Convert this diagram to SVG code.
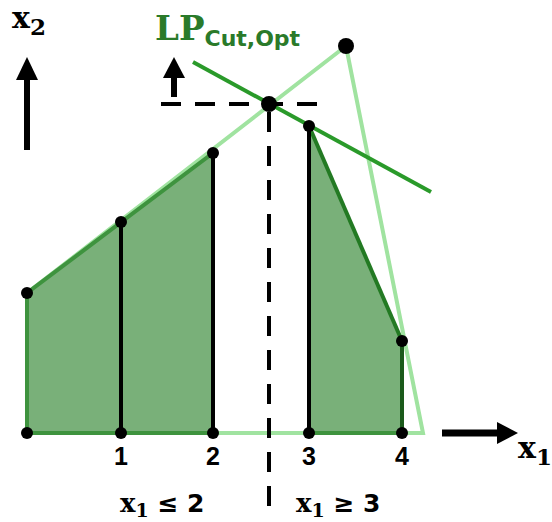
<svg xmlns="http://www.w3.org/2000/svg" width="552" height="522" viewBox="0 0 552 522">
<style>
.lt{fill:none;stroke:#a0e3a0;stroke-width:4;stroke-linejoin:miter}
.reg{fill:#79b079;stroke:#3e933e;stroke-width:4}
.blk{stroke:#000;stroke-width:4;fill:none}
.dash{stroke:#000;stroke-width:4;fill:none;stroke-dasharray:20,14}
.dot{fill:#000}
.arr{fill:#000}
.tick{font-family:"Liberation Sans",Arial,sans-serif;font-weight:bold;font-size:25px;fill:#000;text-anchor:middle}
.ser{font-family:"DejaVu Serif","Liberation Serif",serif;font-weight:bold;fill:#000}
</style>
<g id="outer"><polygon class="lt" points="27,433 27,293 346,46 423,433"/></g>
<g id="left-region"><polygon class="reg" points="27,433 27,293 213,153 213,433"/></g>
<g id="right-region">
<polygon points="309,433 309,126 402,341 402,433" fill="#79b079"/>
<line x1="309" y1="433" x2="402" y2="433" stroke="#3e933e" stroke-width="4"/>
<line x1="309" y1="126" x2="402" y2="341" stroke="#237a23" stroke-width="4"/>
<line x1="402" y1="341" x2="402" y2="433" stroke="#1b5a1b" stroke-width="4"/>
</g>
<g id="connectors">
<line class="blk" x1="121" y1="222" x2="121" y2="433"/>
<line class="blk" x1="213" y1="153" x2="213" y2="433"/>
<line class="blk" x1="309" y1="126" x2="309" y2="433"/>
<line x1="193" y1="62" x2="431" y2="192" stroke="#2a9a2a" stroke-width="4"/>
<line class="dash" x1="161" y1="104" x2="322" y2="104"/>
<line class="dash" x1="269" y1="112" x2="269" y2="512"/>
<line x1="27" y1="150" x2="27" y2="78" stroke="#000" stroke-width="6"/>
<polygon class="arr" points="27,57 38,80 16,80"/>
<line x1="442" y1="433" x2="499" y2="433" stroke="#000" stroke-width="7"/>
<polygon class="arr" points="518,433 497,422 497,444"/>
<line x1="174" y1="97" x2="174" y2="76" stroke="#000" stroke-width="6"/>
<polygon class="arr" points="174,57 185,78 163,78"/>
</g>
<g id="dots">
<circle class="dot" cx="27" cy="433" r="6"/>
<circle class="dot" cx="121" cy="433" r="6"/>
<circle class="dot" cx="213" cy="433" r="6"/>
<circle class="dot" cx="309" cy="433" r="6"/>
<circle class="dot" cx="402" cy="433" r="6"/>
<circle class="dot" cx="27" cy="293" r="6"/>
<circle class="dot" cx="121" cy="222" r="6"/>
<circle class="dot" cx="213" cy="153" r="6"/>
<circle class="dot" cx="309" cy="126" r="6"/>
<circle class="dot" cx="402" cy="341" r="6"/>
<circle class="dot" cx="269" cy="104" r="8"/>
<circle class="dot" cx="346" cy="46" r="8"/>
</g>
<g id="labels">
<text class="tick" x="121" y="465">1</text>
<text class="tick" x="213" y="465">2</text>
<text class="tick" x="309" y="465">3</text>
<text class="tick" x="402" y="465">4</text>
<text class="ser" x="12" y="28" font-size="30">x<tspan font-size="23" dy="7">2</tspan></text>
<text class="ser" x="518" y="458" font-size="30">x<tspan font-size="23" dy="7">1</tspan></text>
<text x="155" y="40" font-family="DejaVu Serif,serif" font-weight="bold" font-size="34" fill="#2a7a2a">LP<tspan font-family="DejaVu Sans,sans-serif" font-size="22" dy="6">Cut,Opt</tspan></text>
<text class="ser" x="120" y="512" font-size="26">x<tspan font-size="19" dy="5">1</tspan><tspan dy="-5" font-family="DejaVu Sans,sans-serif" font-size="25"> ≤ 2</tspan></text>
<text class="ser" x="296" y="512" font-size="26">x<tspan font-size="19" dy="5">1</tspan><tspan dy="-5" font-family="DejaVu Sans,sans-serif" font-size="25"> ≥ 3</tspan></text>
</g>
</svg>
